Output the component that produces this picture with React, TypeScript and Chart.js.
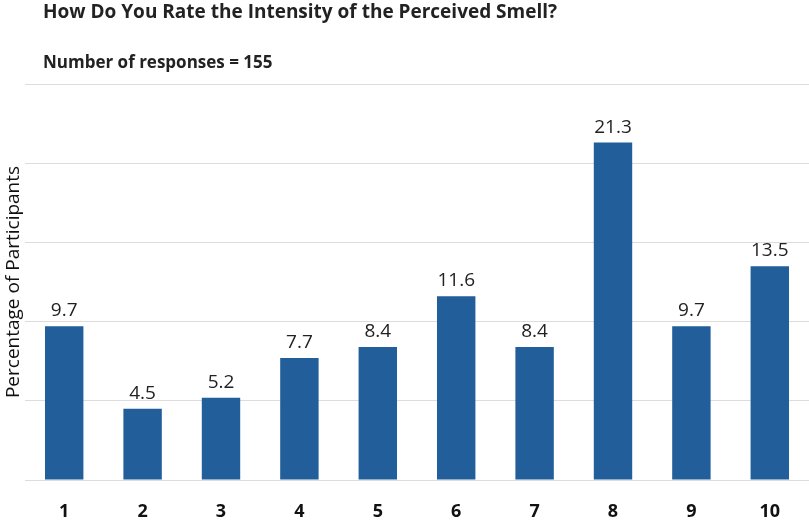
import { useEffect, useRef } from "react";
import { Chart, registerables, Plugin } from "chart.js";

Chart.register(...registerables);

const categories = ["1", "2", "3", "4", "5", "6", "7", "8", "9", "10"];
const percentages = [9.7, 4.5, 5.2, 7.7, 8.4, 11.6, 8.4, 21.3, 9.7, 13.5];
const yTicks = [0, 5, 10, 15, 20, 25];

const titleText = "How Do You Rate the Intensity of the Perceived Smell?";
const subtitleText = "Number of responses = 155";
const FONT = "'Open Sans', Lato, sans-serif";

// header text drawn at fixed spots, top-left like the original
const headerPlugin: Plugin<"bar"> = {
  id: "header",
  afterDraw(chart) {
    const ctx = chart.ctx;
    ctx.save();
    ctx.fillStyle = "#222";
    ctx.textAlign = "left";
    ctx.textBaseline = "alphabetic";
    ctx.font = `bold 19px ${FONT}`;
    ctx.fillText(titleText, 43, 18);
    ctx.font = `bold 17px ${FONT}`;
    ctx.fillText(subtitleText, 43, 68);
    ctx.restore();
  },
};

// value labels above each bar
const valueLabels: Plugin<"bar"> = {
  id: "valueLabels",
  afterDatasetsDraw(chart) {
    const ctx = chart.ctx;
    const meta = chart.getDatasetMeta(0);
    ctx.save();
    ctx.fillStyle = "#222";
    ctx.font = `19px ${FONT}`;
    ctx.textAlign = "center";
    ctx.textBaseline = "bottom";
    meta.data.forEach((bar, i) => {
      ctx.fillText(percentages[i].toFixed(1), bar.x, bar.y - 6);
    });
    ctx.restore();
  },
};

export default function App() {
  const chartRef = useRef<HTMLCanvasElement | null>(null);
  const chartInstanceRef = useRef<Chart<"bar", number[], string> | null>(null);

  useEffect(() => {
    document.body.style.margin = "0";
    const canvas = chartRef.current;
    if (!canvas) return;
    const ctx = canvas.getContext("2d");
    if (!ctx) return;

    if (chartInstanceRef.current) {
      chartInstanceRef.current.destroy();
    }

    chartInstanceRef.current = new Chart(ctx, {
      type: "bar",
      data: {
        labels: categories,
        datasets: [
          {
            label: "Percentage of Participants",
            data: percentages,
            backgroundColor: "#215e9a",
            borderWidth: 0,
            barPercentage: 0.98,
            categoryPercentage: 0.5,
          },
        ],
      },
      options: {
        responsive: true,
        maintainAspectRatio: false,
        animation: false,
        layout: { padding: { top: 84, left: 0, right: 0, bottom: 0 } },
        scales: {
          x: {
            grid: { display: false },
            border: { display: false },
            ticks: {
              color: "#111",
              padding: 13,
              font: { family: FONT, size: 18, weight: "bold" },
            },
            afterFit: (axis) => {
              axis.height = 40;
            },
          },
          y: {
            min: 0,
            max: 25,
            afterBuildTicks: (axis) => {
              axis.ticks = yTicks.map((v) => ({ value: v }));
            },
            ticks: { display: false },
            grid: { color: "#dcdcdc", lineWidth: 1, drawTicks: false },
            border: { display: false },
            title: {
              display: true,
              text: "Percentage of Participants",
              color: "#111",
              padding: 2,
              font: { family: FONT, size: 19 },
            },
            afterFit: (axis) => {
              axis.width = 25;
            },
          },
        },
        plugins: {
          legend: { display: false },
          tooltip: { enabled: false },
          title: { display: false },
        },
      },
      plugins: [headerPlugin, valueLabels],
    });

    return () => {
      if (chartInstanceRef.current) {
        chartInstanceRef.current.destroy();
        chartInstanceRef.current = null;
      }
    };
  }, []);

  return (
    <div style={{ width: 809, height: 520, background: "#fff" }}>
      <canvas ref={chartRef} />
    </div>
  );
}
